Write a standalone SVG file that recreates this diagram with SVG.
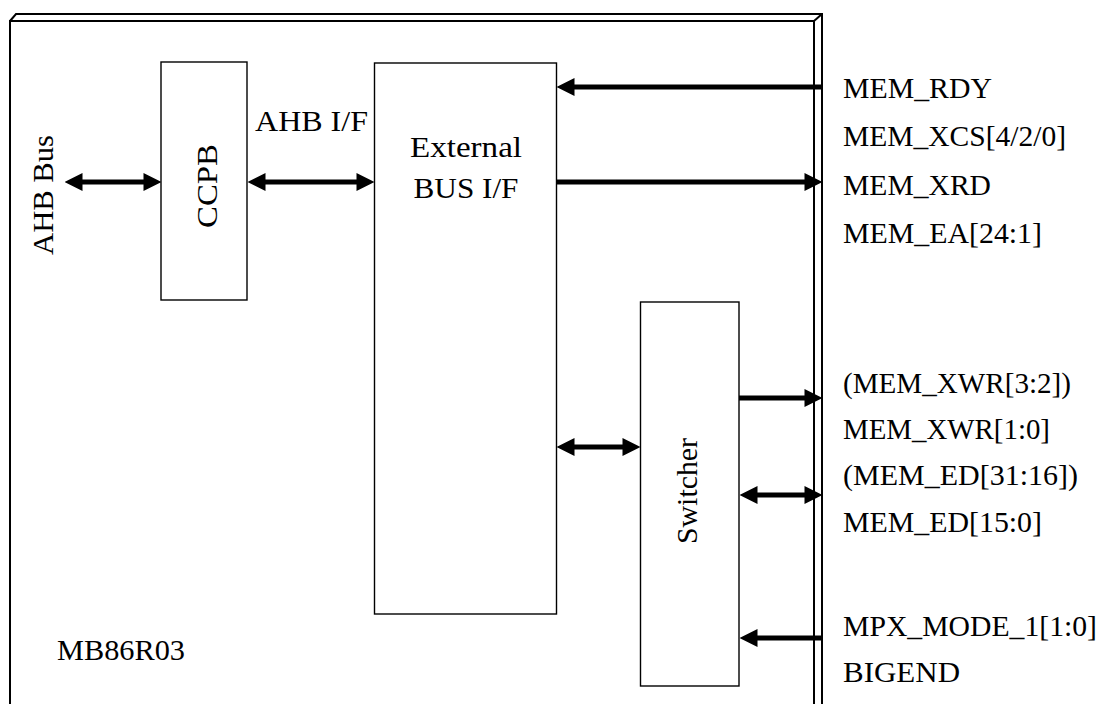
<svg xmlns="http://www.w3.org/2000/svg" width="1102" height="704" viewBox="0 0 1102 704">
<style>
.frame{fill:none;stroke:#000;stroke-width:2}
.box{fill:#fff;stroke:#000;stroke-width:1.4}
.conn{fill:none;stroke:#000;stroke-width:5}
.t{font-family:"Liberation Serif","Times New Roman",serif;font-size:29px;fill:#000}
</style>
<defs>
<marker id="ah" markerUnits="userSpaceOnUse" markerWidth="18" markerHeight="18" viewBox="0 0 17 17" refX="9" refY="8.5" orient="auto-start-reverse">
<path d="M0,0 L17,8.5 L0,17 z" fill="#000"/>
</marker>
</defs>
<rect width="1102" height="704" fill="#fff"/>
<g id="frame">
<path class="frame" d="M10,710 L10,21 L814,21 L814,710"/>
<path class="frame" d="M10,21 L16,14 L822,14 L822,710"/>
<path class="frame" d="M814,21 L822,14"/>
<text class="t" x="57" y="660" textLength="128" lengthAdjust="spacingAndGlyphs">MB86R03</text>
</g>
<g id="ccpb">
<rect class="box" x="161" y="62" width="86" height="238"/>
<text class="t" transform="translate(217,186) rotate(-90)" text-anchor="middle" textLength="84" lengthAdjust="spacingAndGlyphs">CCPB</text>
</g>
<g id="extbus">
<rect class="box" x="374.5" y="63" width="182" height="551"/>
<text class="t" x="466" y="157" text-anchor="middle" textLength="112" lengthAdjust="spacingAndGlyphs">External</text>
<text class="t" x="466" y="198" text-anchor="middle" textLength="105" lengthAdjust="spacingAndGlyphs">BUS I/F</text>
</g>
<g id="switcher">
<rect class="box" x="640.5" y="302" width="98.5" height="384"/>
<text class="t" transform="translate(697,491) rotate(-90)" text-anchor="middle" textLength="106" lengthAdjust="spacingAndGlyphs">Switcher</text>
</g>
<g id="labels">
<text class="t" transform="translate(53,195) rotate(-90)" text-anchor="middle" textLength="120" lengthAdjust="spacingAndGlyphs">AHB Bus</text>
<text class="t" x="255" y="131" textLength="113" lengthAdjust="spacingAndGlyphs">AHB I/F</text>
<text class="t" x="843" y="98" textLength="149" lengthAdjust="spacingAndGlyphs">MEM_RDY</text>
<text class="t" x="843" y="146" textLength="223" lengthAdjust="spacingAndGlyphs">MEM_XCS[4/2/0]</text>
<text class="t" x="843" y="195" textLength="148" lengthAdjust="spacingAndGlyphs">MEM_XRD</text>
<text class="t" x="843" y="243" textLength="199" lengthAdjust="spacingAndGlyphs">MEM_EA[24:1]</text>
<text class="t" x="843" y="393" textLength="228" lengthAdjust="spacingAndGlyphs">(MEM_XWR[3:2])</text>
<text class="t" x="843" y="439" textLength="207" lengthAdjust="spacingAndGlyphs">MEM_XWR[1:0]</text>
<text class="t" x="843" y="485" textLength="235" lengthAdjust="spacingAndGlyphs">(MEM_ED[31:16])</text>
<text class="t" x="843" y="532" textLength="199" lengthAdjust="spacingAndGlyphs">MEM_ED[15:0]</text>
<text class="t" x="843" y="636" textLength="254" lengthAdjust="spacingAndGlyphs">MPX_MODE_1[1:0]</text>
<text class="t" x="843" y="682" textLength="117" lengthAdjust="spacingAndGlyphs">BIGEND</text>
</g>
<g id="connectors">
<line class="conn" x1="73" y1="182" x2="153" y2="182" marker-start="url(#ah)" marker-end="url(#ah)"/>
<line class="conn" x1="256" y1="182" x2="366" y2="182" marker-start="url(#ah)" marker-end="url(#ah)"/>
<line class="conn" x1="822" y1="87" x2="565" y2="87" marker-end="url(#ah)"/>
<line class="conn" x1="557" y1="182" x2="814" y2="182" marker-end="url(#ah)"/>
<line class="conn" x1="565" y1="447" x2="632" y2="447" marker-start="url(#ah)" marker-end="url(#ah)"/>
<line class="conn" x1="739" y1="398" x2="814" y2="398" marker-end="url(#ah)"/>
<line class="conn" x1="748" y1="495" x2="814" y2="495" marker-start="url(#ah)" marker-end="url(#ah)"/>
<line class="conn" x1="822" y1="638" x2="748" y2="638" marker-end="url(#ah)"/>
</g>
</svg>
